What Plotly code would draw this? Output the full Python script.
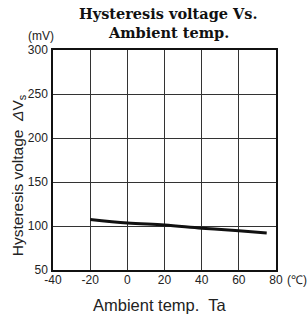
import plotly.graph_objects as go

temps = [-20, 0, 20, 40, 60, 75]
hyst = [107.5, 103.5, 101, 97.5, 94.5, 92]
x_ticks = [-40, -20, 0, 20, 40, 60, 80]
y_ticks = [50, 100, 150, 200, 250, 300]
title_lines = ["Hysteresis voltage Vs.", "Ambient temp."]

fig = go.Figure()
fig.add_trace(go.Scatter(x=temps, y=hyst, mode="lines",
                         line=dict(color="#111111", width=3, shape="spline"),
                         showlegend=False, hoverinfo="skip"))

tick_font = dict(family="Liberation Sans, Arial, sans-serif", size=12, color="#222222")
label_font = dict(family="Liberation Sans, Arial, sans-serif", size=15.5, color="#222222")
fig.update_layout(
    width=307, height=317,
    margin=dict(l=53, r=31, t=50, b=47),
    paper_bgcolor="white", plot_bgcolor="white",
    xaxis=dict(range=[-40, 80], tickvals=x_ticks, ticktext=[str(v) for v in x_ticks],
               showgrid=True, gridcolor="#333333", gridwidth=1,
               showline=True, linecolor="#111111", linewidth=1.5, mirror=True,
               ticks="", tickfont=tick_font, zeroline=False, ticklabelstandoff=-2),
    yaxis=dict(range=[50, 300], tickvals=y_ticks, ticktext=[str(v) for v in y_ticks],
               showgrid=True, gridcolor="#333333", gridwidth=1,
               showline=True, linecolor="#111111", linewidth=1.5, mirror=True,
               ticks="", tickfont=tick_font, zeroline=False, ticklabelstandoff=1),
)
title_font = dict(family="DejaVu Serif, serif", size=14.5, color="#111111", weight="bold")
for i, line in enumerate(title_lines):
    fig.add_annotation(text=line, xref="paper", yref="paper", x=0.52, y=1.0,
                       yshift=37 - 19 * i, xanchor="center", yanchor="middle",
                       showarrow=False, font=title_font)
fig.add_annotation(text="Hysteresis voltage  <i>Δ</i>V<sub>s</sub>", xref="paper", yref="paper",
                   x=-0.155, y=0.433, textangle=-90, xanchor="center", yanchor="middle",
                   showarrow=False, font=label_font)
fig.add_annotation(text="Ambient temp.  Ta", xref="paper", yref="paper",
                   x=0.482, y=-0.159, xanchor="center", yanchor="middle",
                   showarrow=False, font=dict(label_font, size=16.5))
fig.add_annotation(text="(mV)", xref="paper", yref="paper", x=0.012, y=1.0, yshift=5,
                   xanchor="right", yanchor="bottom", showarrow=False, font=tick_font)
fig.add_annotation(text="(℃)", xref="paper", yref="paper", x=1.0, y=0, xshift=9, yshift=-1,
                   xanchor="left", yanchor="top", showarrow=False, font=tick_font)

fig.write_html("out.html", config={"displayModeBar": False},
               post_script="document.body.style.margin='0';document.body.style.padding='0';")
